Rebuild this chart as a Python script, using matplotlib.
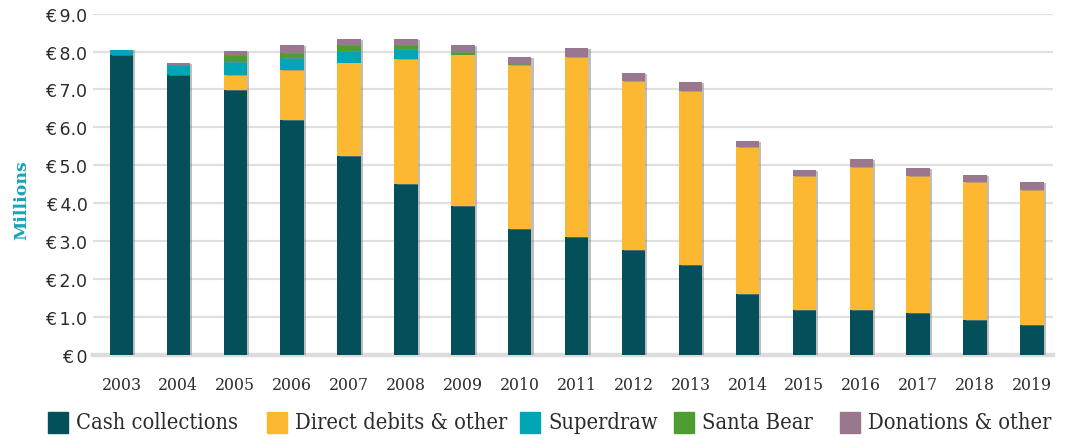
import matplotlib
matplotlib.use("Agg")
import matplotlib.pyplot as plt
import matplotlib.patheffects as pe
from matplotlib.patches import Rectangle
import numpy as np

years = ["2003", "2004", "2005", "2006", "2007", "2008", "2009", "2010", "2011",
         "2012", "2013", "2014", "2015", "2016", "2017", "2018", "2019"]

cash_collections = [7.90, 7.38, 6.98, 6.19, 5.25, 4.50, 3.92, 3.32, 3.11,
                    2.76, 2.37, 1.60, 1.18, 1.18, 1.10, 0.92, 0.79]
direct_debits = [0.00, 0.00, 0.40, 1.32, 2.46, 3.31, 4.00, 4.33, 4.74,
                 4.46, 4.59, 3.88, 3.53, 3.77, 3.61, 3.63, 3.56]
superdraw = [0.15, 0.26, 0.34, 0.32, 0.31, 0.26, 0.00, 0.00, 0.00,
             0.00, 0.00, 0.00, 0.00, 0.00, 0.00, 0.00, 0.00]
santa_bear = [0.00, 0.00, 0.19, 0.13, 0.16, 0.11, 0.07, 0.02, 0.00,
              0.00, 0.00, 0.00, 0.00, 0.00, 0.00, 0.00, 0.00]
donations = [0.00, 0.06, 0.10, 0.21, 0.15, 0.15, 0.19, 0.18, 0.24,
             0.21, 0.24, 0.16, 0.16, 0.21, 0.22, 0.19, 0.20]

series_names = ["Cash collections", "Direct debits & other", "Superdraw",
                "Santa Bear", "Donations & other"]
colors = ["#034f5a", "#fdb831", "#00a6b6", "#4e9d30", "#99778f"]

yticks = [0, 1, 2, 3, 4, 5, 6, 7, 8, 9]
ytick_labels = ["\u20ac\u20090"] + ["\u20ac\u2009{:.1f}".format(v) for v in yticks[1:]]

W, H = 1065, 439
fig = plt.figure(figsize=(W / 100, H / 100), dpi=100)
ax = fig.add_axes([0.0873, 0.1897, 0.9014, 0.777])

serif_cond = ["DejaVu Serif Condensed", "DejaVu Serif"]
text_color = "#2b2b2b"

x = np.arange(len(years))
width = 0.41
bottom = np.zeros(len(years))
shadow = [pe.SimplePatchShadow(offset=(1.6, -0.6), shadow_rgbFace="#8a8a8a", alpha=0.55),
          pe.Normal()]
for vals, c in zip([cash_collections, direct_debits, superdraw, santa_bear, donations],
                   colors):
    vals = np.array(vals)
    bars = ax.bar(x, vals, width, bottom=bottom, color=c, zorder=3, linewidth=0)
    for b in bars:
        b.set_path_effects(shadow)
    bottom += vals

ax.set_xlim(-0.5, 16.37)
ax.set_ylim(0, 9.0)
ax.set_yticks(yticks)
ax.set_yticklabels(ytick_labels, fontsize=12.5, color=text_color, family="DejaVu Sans")
ax.set_xticks(x)
ax.set_xticklabels(years, fontsize=12.6, color=text_color, family=serif_cond,
                   fontstretch="condensed")
ax.tick_params(axis="both", length=0)
ax.tick_params(axis="y", pad=4)
ax.tick_params(axis="x", pad=15)

for v in yticks[1:]:
    ax.axhline(v, color="#e0e0e0", linewidth=1.6, zorder=1)
ax.axhline(0, color="#dcdcdc", linewidth=3.2, zorder=2, clip_on=False)
for s in ax.spines.values():
    s.set_visible(False)

fig.text(21.5 / W, 1 - 200 / H, "Millions", rotation=90, color="#1aa3b8",
         fontsize=12.5, fontweight="bold", family="DejaVu Serif",
         ha="center", va="center")

# legend: coloured squares with labels in one row along the bottom
swatch_left_px = [48, 267, 520, 674, 840]
swatch_w, swatch_h, legend_y = 20, 21, 423.5
for left, c, name in zip(swatch_left_px, colors, series_names):
    fig.patches.append(Rectangle((left / W, 1 - (legend_y + swatch_h / 2) / H),
                                 swatch_w / W, swatch_h / H, color=c,
                                 transform=fig.transFigure, figure=fig))
    fig.text((left + 28) / W, 1 - legend_y / H, name, fontsize=15.7,
             family=serif_cond, fontstretch="condensed", color=text_color,
             ha="left", va="center")

fig.savefig("out.png", dpi=100)
